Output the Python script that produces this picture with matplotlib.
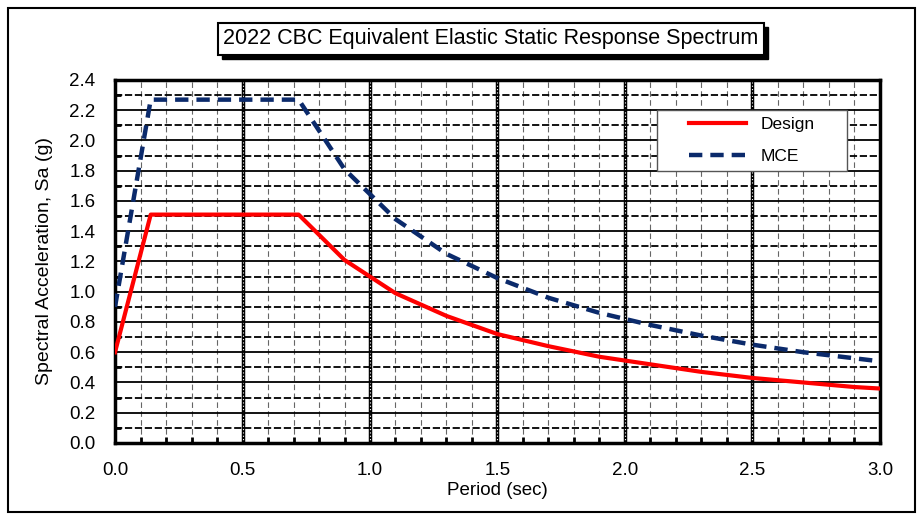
import matplotlib.pyplot as plt
from matplotlib.patches import Rectangle

period = [0.0, 0.14, 0.72, 0.9, 1.1, 1.3, 1.5, 1.7, 1.9, 2.1, 2.3, 2.5, 2.7, 2.9, 3.0]
design = [0.60, 1.51, 1.51, 1.21, 0.99, 0.84, 0.72, 0.64, 0.57, 0.52, 0.47, 0.43, 0.40, 0.37, 0.36]
mce = [0.90, 2.27, 2.27, 1.81, 1.48, 1.25, 1.09, 0.96, 0.86, 0.78, 0.71, 0.65, 0.60, 0.56, 0.54]

plt.rcParams['font.family'] = ['Liberation Sans', 'DejaVu Sans']

fig = plt.figure(figsize=(9.23, 5.18), dpi=100)
fig.patches.append(Rectangle((0.009, 0.012), 0.982, 0.972, transform=fig.transFigure,
                             fill=False, edgecolor='black', linewidth=1.5))
ax = fig.add_axes([0.1246, 0.1448, 0.8288, 0.7008])

# grid
for i in range(1, 30):
    x = 0.1 * i
    if i % 5 == 0:
        ax.axvline(x, color='black', lw=2.5, zorder=1)
        ax.axvline(x, color='white', lw=0.8, ls=(0, (1, 2)), zorder=1)
    else:
        ax.axvline(x, color='#666666', lw=0.8, ls=(0, (5, 3)), zorder=1)
for i in range(1, 24):
    y = 0.1 * i
    if i % 2 == 0:
        ax.axhline(y, color='black', lw=1.3, zorder=1)
    else:
        ax.axhline(y, color='black', lw=1.3, ls=(0, (4, 1.5)), zorder=1)

ax.plot(period, design, color='#ff0000', lw=3, label='Design', zorder=3)
ax.plot(period, mce, color='#0b2a6b', lw=3.2, ls=(0, (3, 1.8)), label='MCE', zorder=3)

ax.set_xlim(0, 3.0)
ax.set_ylim(0, 2.4)
ax.set_xticks([0, 0.5, 1.0, 1.5, 2.0, 2.5, 3.0])
ax.set_xticklabels(['0.0', '0.5', '1.0', '1.5', '2.0', '2.5', '3.0'])
ax.set_xticks([0.1 * i for i in range(30)], minor=True)
ax.set_yticks([0.2 * i for i in range(13)])
ax.set_yticks([0.1 * i for i in range(24)], minor=True)
ax.set_yticklabels(['%.1f' % (0.2 * i) for i in range(13)])
ax.tick_params(labelsize=13.5, length=0)
ax.tick_params(axis='x', pad=14)
ax.tick_params(axis='y', pad=14)
ax.tick_params(which='minor', direction='in', length=4, width=2)
for s in ax.spines.values():
    s.set_linewidth(2.5)
ax.set_xlabel('Period (sec)', fontsize=13.5, labelpad=2)
ax.set_ylabel('Spectral Acceleration, Sa (g)', fontsize=14, labelpad=12)

# legend box drawn separately (wide side padding as in the original)
ax.add_patch(Rectangle((0.7085, 0.749), 0.248, 0.168, transform=ax.transAxes,
                       facecolor='white', edgecolor='#555555', lw=1, zorder=4))
leg = ax.legend(loc='center', bbox_to_anchor=(0.8325, 0.833), fontsize=12.5,
                handlelength=3.3, labelspacing=0.95, frameon=False)
leg.set_zorder(5)

title = fig.text(0.532, 0.925, '2022 CBC Equivalent Elastic Static Response Spectrum',
                 fontsize=15.5, ha='center', va='center', zorder=3,
                 bbox=dict(boxstyle='square,pad=0.25', facecolor='white', edgecolor='black', lw=1.5))
# drop shadow behind the title box
fig.canvas.draw()
bb = title.get_bbox_patch().get_window_extent()
fig.patches.append(Rectangle((bb.x0 + 4, bb.y0 - 4), bb.width, bb.height, transform=None,
                             facecolor='black', edgecolor='black', zorder=2))

fig.savefig('out.png', dpi=100)
